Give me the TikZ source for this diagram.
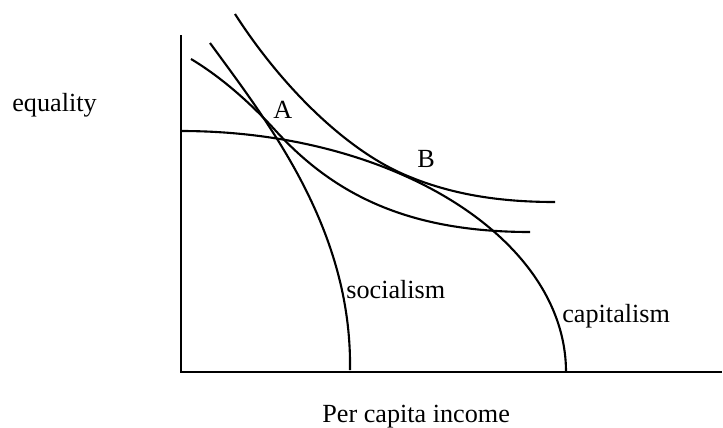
\documentclass[tikz,border=0pt]{standalone}
\usepackage{fontspec}
\setmainfont{Liberation Serif}
\usepackage{tikz}
\usetikzlibrary{positioning}

\begin{document}
\begin{tikzpicture}[
    x=0.02cm, y=-0.02cm,
    axisline/.style={line width=1.25pt},
    curveline/.style={line width=1.2pt},
    lbl/.style={font=\fontsize{14.9pt}{18pt}\selectfont, inner sep=0pt, anchor=base west},
]
    \useasboundingbox (0,0) rectangle (723,427);

    % axes
    \coordinate (ytop) at (181,35);
    \coordinate (origin) at (181,372);
    \coordinate (xend) at (722,372);
    \draw[axisline] (ytop) -- (origin) -- (xend);

    % production frontiers
    \draw[curveline] (181,131) .. controls (394,131) and (566,239) .. (566,372);
    \draw[curveline] (210,43) .. controls (270,125) and (352,230) .. (350,370);

    % indifference curves
    \draw[curveline] (191,59) .. controls (221,77) and (250,102.5) .. (275,130)
        .. controls (335,196) and (410,232) .. (530,232);
    \draw[curveline] (235,14) .. controls (280,84) and (343,147.6) .. (403,174)
        .. controls (453,196) and (505,202) .. (555,202);

    % labels
    \node[lbl] (eq) at (12,111) {equality};
    \node[lbl] (ptA) at (273,118) {A};
    \node[lbl] (ptB) at (417,167) {B};
    \node[lbl] (soc) at (346,298) {socialism};
    \node[lbl] (cap) at (562,322) {capitalism};
    \node[lbl] (inc) at (322,422) {Per capita income};
\end{tikzpicture}
\end{document}
